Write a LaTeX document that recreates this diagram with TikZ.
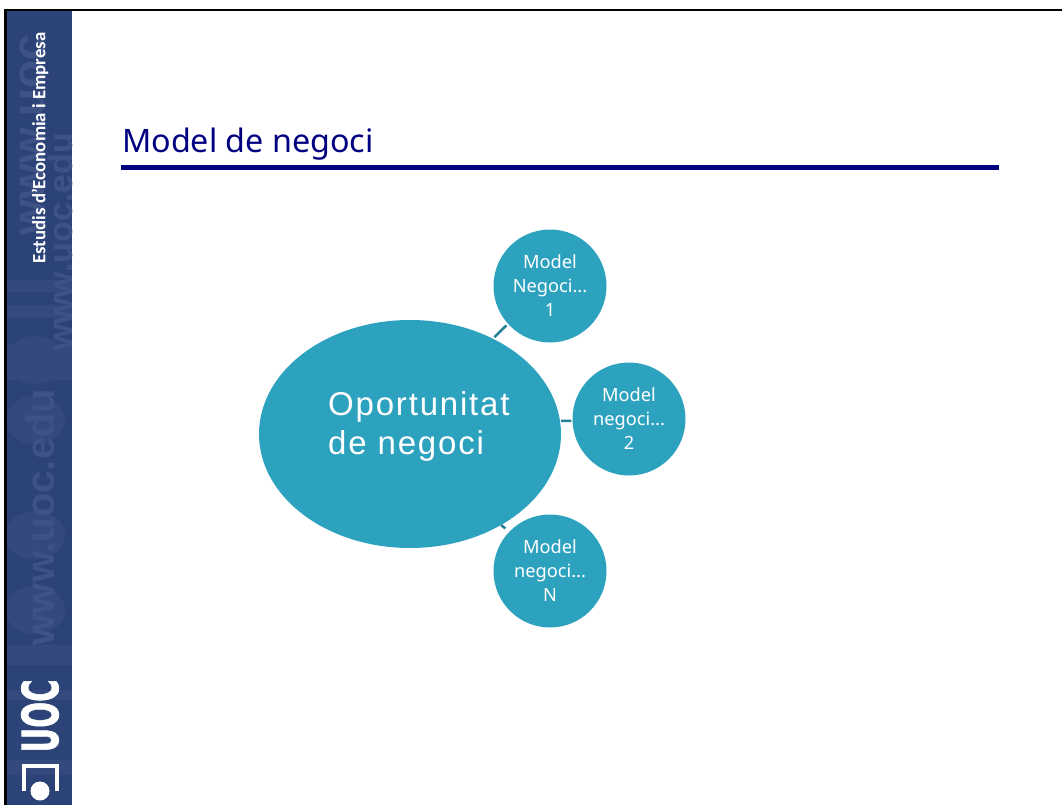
\documentclass[tikz,border=0pt]{standalone}
\usepackage{fontspec}
\usepackage{graphicx}
\setmainfont{Noto Sans}
\newfontfamily\sidefont{Carlito}
\newfontfamily\bigfont[LetterSpace=5.5]{Liberation Sans}
\newfontfamily\logofont[FakeBold=1.5]{DejaVu Sans}
\newfontfamily\fadefont{Liberation Sans}
\usetikzlibrary{positioning,calc,shapes.geometric}
\definecolor{uocblue}{HTML}{2C4377}
\definecolor{uocfade}{HTML}{3F5286}
\definecolor{uocband}{HTML}{344A7E}
\definecolor{uocnavy}{HTML}{000080}
\definecolor{tealfill}{HTML}{2DA2BF}
\definecolor{tealline}{HTML}{237F97}
\begin{document}
\begin{tikzpicture}[x=1pt,y=-1pt,
  bubble/.style={circle,fill=tealfill,minimum size=113pt,inner sep=0pt,align=center,text=white,font=\fontsize{18.2}{24}\selectfont},
  link/.style={draw=tealline,line width=2.5pt},
  faded/.style={rotate=90,text=uocfade,inner sep=0pt}]
\useasboundingbox (0,0) rectangle (1062,805);
\fill[white] (0,0) rectangle (1062,805);
% side band
\fill[uocblue] (7,11) rectangle (72,805);
\begin{scope}
\clip (7,11) rectangle (72,805);
\foreach \ya/\yb in {280/292,305/318,345/380,645/665,690/700,760/775}
  \fill[uocband] (7,\ya) rectangle (72,\yb);
\foreach \yc in {360,420,535,610}
  \fill[uocband] (35,\yc) ellipse (30 and 24);
\node (www) [faded,font=\fadefont\bfseries\fontsize{40}{40}\selectfont] at (40,517) {www.uoc.edu};
\node (wwwsmall) [faded,font=\fadefont\bfseries\fontsize{34}{34}\selectfont] at (60,242) {www.uoc.edu};
\node (wwwtop) [faded,font=\fadefont\bfseries\fontsize{46}{46}\selectfont] at (32,135) {www.uoc};
\end{scope}
\node (side) [rotate=90,text=white,inner sep=0pt,font=\sidefont\fontsize{18.8}{20}\selectfont\bfseries] at (40,148) {Estudis d’Economia i Empresa};
\node (logo) [rotate=90,text=white,inner sep=0pt,font=\logofont\bfseries] at (40,716) {\resizebox{73pt}{37pt}{UOC}};
\node (dot) [circle,fill=white,minimum size=19pt,inner sep=0pt] at (40,791) {};
\draw[white,line width=3.5pt] (24,791) -- (24,766) -- (57,766) -- (57,791);
% frame
\fill[black] (4,9) rectangle (1062,11.5);
\fill[black] (4,9) rectangle (7,805);
% title
\node (title) [anchor=base west,inner sep=0pt,text=uocnavy,font=\fontsize{32.3}{33}\selectfont] at (122,153) {Model de negoci};
\fill[uocnavy] (121,165) rectangle (999,170);
% diagram
\node (opor) [ellipse,fill=tealfill,minimum width=302pt,minimum height=228pt,inner sep=0pt] at (410,434) {};
\node (oportext) [anchor=west,align=left,text=white,inner sep=0pt,font=\bigfont\fontsize{33}{39}\selectfont] at (328,426.5) {Oportunitat\\de negoci};
\node (m1) [bubble] at (550,286) {Model\\Negoci...\\1};
\node (m2) [bubble] at (629,419) {Model\\negoci...\\2};
\node (m3) [bubble] at (550,571) {Model\\negoci...\\N};
\draw[link,shorten <=2pt,shorten >=2pt] (opor.49) -- (m1.222);
\draw[link,shorten <=1pt,shorten >=1pt] (opor.5) -- (m2.182);
\draw[link,shorten >=5pt] (opor.-45) -- (m3.136);
\end{tikzpicture}
\end{document}
